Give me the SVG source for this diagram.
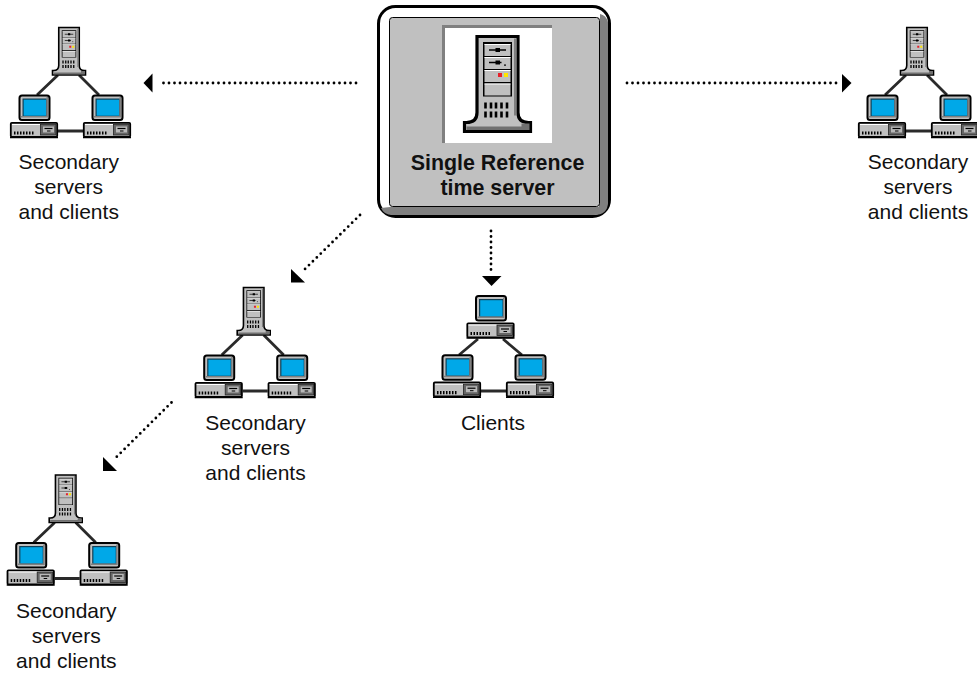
<svg xmlns="http://www.w3.org/2000/svg" width="977" height="673" viewBox="0 0 977 673">
<style>
text{font-family:"Liberation Sans",Arial,sans-serif;font-size:21px;fill:#111;text-anchor:middle}
.b{font-weight:bold;font-size:21.4px}
.dot{fill:none;stroke:#000;stroke-width:2.8;stroke-linecap:round;stroke-dasharray:0 5.5}
.link{stroke:#2a2a2a;stroke-width:2.8;fill:none}
.g{fill:#c0c0c0}
</style>
<defs>
<g id="tower">
<path d="M-20.500,1 H20.500 V77 Q20.500,87 31,87 H33 V96 H-33 V87 H-31 Q-20.500,87 -20.500,77 Z" class="g" stroke="#000" stroke-width="3.200"/>
<path d="M-31,94.500 H32 V88 H24 V91 H-31 Z" fill="#707070"/>
<path d="M16.500,3 H19 V80 H16.500 Z" fill="#808080"/>
<rect x="-14.500" y="6.500" width="29" height="54.500" fill="#000"/>
<g class="g">
<rect x="-13" y="8.500" width="26" height="12"/>
<rect x="-13" y="21.500" width="26" height="12"/>
<rect x="-13" y="34.500" width="26" height="12"/>
<rect x="-13" y="48" width="26" height="12"/>
</g>
<g fill="#fff">
<rect x="-13" y="8.500" width="26" height="1"/>
<rect x="-13" y="21.500" width="26" height="1"/>
<rect x="-13" y="34.500" width="26" height="1"/>
<rect x="-13" y="48" width="26" height="1"/>
</g>
<path d="M-8.500,14.500 H8.500 M-8.500,27 H4" stroke="#000" stroke-width="1.400"/>
<rect x="-2" y="12.500" width="4.500" height="4" fill="#000"/>
<rect x="-2" y="25" width="4.500" height="4" fill="#000"/>
<rect x="6.500" y="29" width="2" height="1.200" fill="#000"/>
<rect x="0.500" y="37.500" width="4" height="4" fill="#e8202a"/>
<rect x="6.500" y="37.500" width="4" height="4" fill="#ffe600"/>
<path d="M-12,67 V73 M-6.500,67 V73 M-1.500,67 V73 M4,67 V73 M9.500,67 V73 M-12,76 V82 M-6.500,76 V82 M-1.500,76 V82 M4,76 V82 M9.500,76 V82" stroke="#000" stroke-width="2.600"/>
</g>
<g id="pc">
<rect x="9.500" y="-26.500" width="30" height="24.500" rx="2.500" fill="#c0c0c0" stroke="#000" stroke-width="2"/>
<path d="M11,-4.500 H38 V-25 H36.500 V-6 H11 Z" fill="#808080"/>
<rect x="12.500" y="-23.500" width="24" height="17.500" fill="#103f55"/>
<rect x="13.700" y="-22.300" width="22.300" height="16" fill="#00a8e8"/>
<rect x="0.800" y="0.800" width="46.400" height="14" rx="1" fill="#c0c0c0" stroke="#000" stroke-width="1.800"/>
<path d="M0,15.500 H48" stroke="#000" stroke-width="1.400"/>
<rect x="2" y="2" width="44" height="1" fill="#fff"/>
<rect x="30.500" y="2.500" width="15.500" height="10.500" fill="#666" stroke="#222" stroke-width="0.800"/>
<rect x="33" y="4.500" width="11" height="6" fill="#b8b8b8"/>
<path d="M34.500,6.500 H42.500" stroke="#000" stroke-width="1.200"/>
<path d="M37,9 H40.500" stroke="#000" stroke-width="1"/>
<path d="M4,11 H25" stroke="#000" stroke-width="3.200" stroke-dasharray="1.500 1.500"/>
</g>
<g id="tri">
<path class="link" d="M58,75 L37,95 M79,75 L99,95 M58,131 H83"/>
<use href="#tower" transform="translate(69 27) scale(.5)"/>
<use href="#pc" x="10" y="122"/>
<use href="#pc" x="83" y="122"/>
</g>
</defs>
<g id="connectors">
<path class="dot" d="M356,83 H158"/>
<path d="M143.500,83 L152.500,73.500 V92.500 Z"/>
<path class="dot" d="M627,83 H840"/>
<path d="M851.500,83 L842,74 V92.500 Z"/>
<path class="dot" d="M491,231 V273"/>
<path d="M482,276 H501.500 L491.500,286 Z"/>
<path class="dot" d="M360,215 L303,271"/>
<path d="M291,269 L305,282.500 H291 Z"/>
<path class="dot" d="M171.500,402.500 L115,458.500"/>
<path d="M103,457 L117,471 H103 Z"/>
</g>
<g id="reference-server">
<rect x="378.500" y="6.500" width="231" height="210" rx="17" fill="#fff" stroke="#000" stroke-width="3"/>
<path d="M600,14 Q606,15 608,22 V202 Q608,215 594,215 H392 Q384,215 381,208 L390,207 H599 Z" fill="#808080"/>
<rect x="389.500" y="17.500" width="210" height="189" rx="3" fill="#c0c0c0" stroke="#000" stroke-width="1"/>
<rect x="442" y="25" width="110" height="118" fill="#808080"/>
<path d="M445,143 H552 V28 H549 V139 H445 Z" fill="#fff"/>
<rect x="445" y="28" width="104" height="111" fill="#fff"/>
<use href="#tower" transform="translate(497.500 35.500)"/>
<text class="b" x="497.500" y="170">Single Reference</text>
<text class="b" x="497.500" y="195">time server</text>
</g>
<g id="secondary-left"><use href="#tri"/>
<text x="68.700" y="168.500">Secondary</text><text x="68.700" y="193.500">servers</text><text x="68.700" y="219">and clients</text></g>
<g id="secondary-right"><use href="#tri" x="848"/>
<text x="918" y="168.500">Secondary</text><text x="918" y="193.500">servers</text><text x="918" y="219">and clients</text></g>
<g id="secondary-middle"><use href="#tri" x="184.700" y="260"/>
<text x="255.500" y="430">Secondary</text><text x="255.500" y="455">servers</text><text x="255.500" y="479.500">and clients</text></g>
<g id="secondary-bottom"><use href="#tri" x="-3.300" y="447.500"/>
<text x="66.300" y="617.500">Secondary</text><text x="66.300" y="642.500">servers</text><text x="66.300" y="668">and clients</text></g>
<g id="clients">
<path class="link" d="M478,339 L459,355 M503,339 L522,355 M481,391 H506"/>
<use href="#pc" x="466.500" y="322.500"/>
<use href="#pc" x="433" y="381.700"/>
<use href="#pc" x="506" y="381.700"/>
<text x="493" y="430">Clients</text>
</g>
</svg>
